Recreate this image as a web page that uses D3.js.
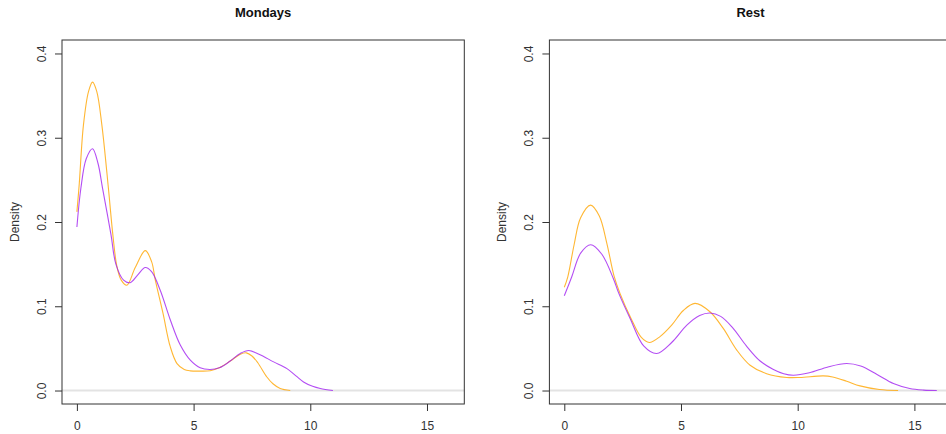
<!DOCTYPE html>
<html>
<head>
<meta charset="utf-8">
<script src="https://cdn.jsdelivr.net/npm/d3@7"></script>
<style>
  html, body { margin: 0; padding: 0; background: #fff; }
  svg { display: block; font-family: "Liberation Sans", Arial, sans-serif; }
</style>
</head>
<body>
<svg id="chart" width="946" height="434"></svg>
<script>
// ---- data ----
const panelTitles = ["Mondays", "Rest"];
const xTicks = [0, 5, 10, 15];
const yTicks = [0.0, 0.1, 0.2, 0.3, 0.4];
const yTickLabels = ["0.0", "0.1", "0.2", "0.3", "0.4"];
const xLimits = [0, 15.96];
const yLimits = [0, 0.4];
const yLabel = "Density";

// [x, density]
const mondaysOrange = [
  [0.0,0.212],[0.1,0.245],[0.28,0.315],[0.5,0.355],[0.67,0.366],[0.85,0.355],[1.07,0.315],
  [1.35,0.24],[1.54,0.185],[1.71,0.148],[1.9,0.131],[2.14,0.125],[2.5,0.146],[2.93,0.166],
  [3.2,0.153],[3.36,0.131],[3.69,0.0915],[4.0,0.052],[4.29,0.032],[4.6,0.025],[4.86,0.0233],
  [5.3,0.023],[5.71,0.0235],[6.1,0.027],[6.57,0.035],[7.0,0.043],[7.26,0.0447],[7.5,0.041],
  [7.75,0.033],[8.14,0.016],[8.4,0.008],[8.71,0.0024],[9.14,0.0]
];
const mondaysPurple = [
  [0.0,0.194],[0.17,0.24],[0.4,0.275],[0.67,0.287],[0.9,0.270],[1.1,0.24],[1.46,0.185],
  [1.67,0.150],[2.0,0.131],[2.28,0.128],[2.6,0.137],[2.93,0.146],[3.2,0.141],[3.57,0.119],
  [4.0,0.084],[4.43,0.054],[4.86,0.036],[5.28,0.027],[5.71,0.025],[6.1,0.027],
  [6.57,0.035],[7.0,0.044],[7.36,0.0475],[7.8,0.043],[8.43,0.034],[9.0,0.026],[9.4,0.017],
  [9.71,0.0102],[10.1,0.005],[10.43,0.0024],[10.97,0.0]
];
const restOrange = [
  [0.0,0.1225],[0.15,0.135],[0.42,0.173],[0.7,0.205],[1.13,0.220],[1.5,0.207],[1.82,0.175],
  [2.13,0.136],[2.39,0.115],[2.86,0.0856],[3.3,0.063],[3.64,0.057],[4.1,0.064],[4.6,0.0776],
  [5.1,0.095],[5.6,0.1034],[6.24,0.0935],[6.81,0.0737],[7.39,0.048],[7.96,0.030],[8.67,0.020],
  [9.53,0.0155],[10.1,0.0155],[11.1,0.0174],[11.5,0.016],[12.1,0.011],[12.67,0.0055],
  [13.5,0.0012],[14.3,0.0]
];
const restPurple = [
  [0.0,0.1125],[0.32,0.135],[0.7,0.163],[1.13,0.173],[1.6,0.162],[2.1,0.133],[2.34,0.115],
  [2.82,0.0856],[3.4,0.053],[3.96,0.044],[4.6,0.057],[5.25,0.0776],[5.8,0.089],[6.25,0.092],
  [6.7,0.088],[7.2,0.075],[7.8,0.053],[8.39,0.035],[8.96,0.025],[9.4,0.020],[9.81,0.0182],
  [10.5,0.021],[11.3,0.028],[12.1,0.032],[12.7,0.029],[13.4,0.019],[14.1,0.0083],[14.8,0.0024],
  [15.4,0.0005],[15.96,0.0]
];

const panels = [
  { title: panelTitles[0], series: [mondaysOrange, mondaysPurple], left: 62 },
  { title: panelTitles[1], series: [restOrange, restPurple], left: 549.4 }
];
const seriesColors = ["#FFA500", "#A020F0"];

// ---- drawing ----
const svg = d3.select("#chart");
const boxTop = 40, boxBottom = 404, boxW = 402.3;

function extend(lim) {
  const d = (lim[1] - lim[0]) * 0.04;
  return [lim[0] - d, lim[1] + d];
}

panels.forEach(p => {
  const x = d3.scaleLinear().domain(extend(xLimits)).range([p.left, p.left + boxW]);
  const y = d3.scaleLinear().domain(extend(yLimits)).range([boxBottom, boxTop]);
  const g = svg.append("g");

  // zero line
  g.append("line")
    .attr("x1", p.left).attr("x2", p.left + boxW)
    .attr("y1", y(0)).attr("y2", y(0))
    .attr("stroke", "#e3e3e3").attr("stroke-width", 2);

  // curves
  const line = d3.line().x(d => x(d[0])).y(d => y(Math.max(0, d[1])))
    .curve(d3.curveCatmullRom.alpha(0.5));
  p.series.forEach((s, i) => {
    g.append("path")
      .attr("d", line(s))
      .attr("fill", "none")
      .attr("stroke", seriesColors[i])
      .attr("stroke-opacity", 0.8)
      .attr("stroke-width", 1.1);
  });

  // box
  g.append("rect")
    .attr("x", p.left).attr("y", boxTop)
    .attr("width", boxW).attr("height", boxBottom - boxTop)
    .attr("fill", "none").attr("stroke", "#333").attr("stroke-width", 1);

  // x axis
  const xa = g.append("g").attr("transform", `translate(0,${boxBottom})`)
    .call(d3.axisBottom(x).tickValues(xTicks).tickSize(7).tickPadding(10));
  xa.select(".domain").remove();
  xa.selectAll("line").attr("stroke", "#333");
  xa.selectAll("text").attr("font-size", 12).attr("fill", "#333").attr("font-family", null);

  // y axis
  const ya = g.append("g").attr("transform", `translate(${p.left},0)`)
    .call(d3.axisLeft(y).tickValues(yTicks).tickFormat((d, i) => yTickLabels[i]).tickSize(7));
  ya.select(".domain").remove();
  ya.selectAll("line").attr("stroke", "#333");
  ya.selectAll("text")
    .attr("x", 0).attr("y", 0).attr("dy", null)
    .attr("text-anchor", "middle")
    .attr("transform", "translate(-16,0) rotate(-90)")
    .attr("font-size", 12).attr("fill", "#333").attr("font-family", null);

  // title
  g.append("text")
    .attr("x", p.left + boxW / 2).attr("y", 16.5)
    .attr("text-anchor", "middle")
    .attr("font-weight", "bold").attr("font-size", 13).attr("fill", "#111")
    .text(p.title);

  // y label
  g.append("text")
    .attr("transform", `translate(${p.left - 43},${(boxTop + boxBottom) / 2}) rotate(-90)`)
    .attr("text-anchor", "middle")
    .attr("font-size", 12).attr("fill", "#333")
    .text(yLabel);
});
</script>
</body>
</html>
